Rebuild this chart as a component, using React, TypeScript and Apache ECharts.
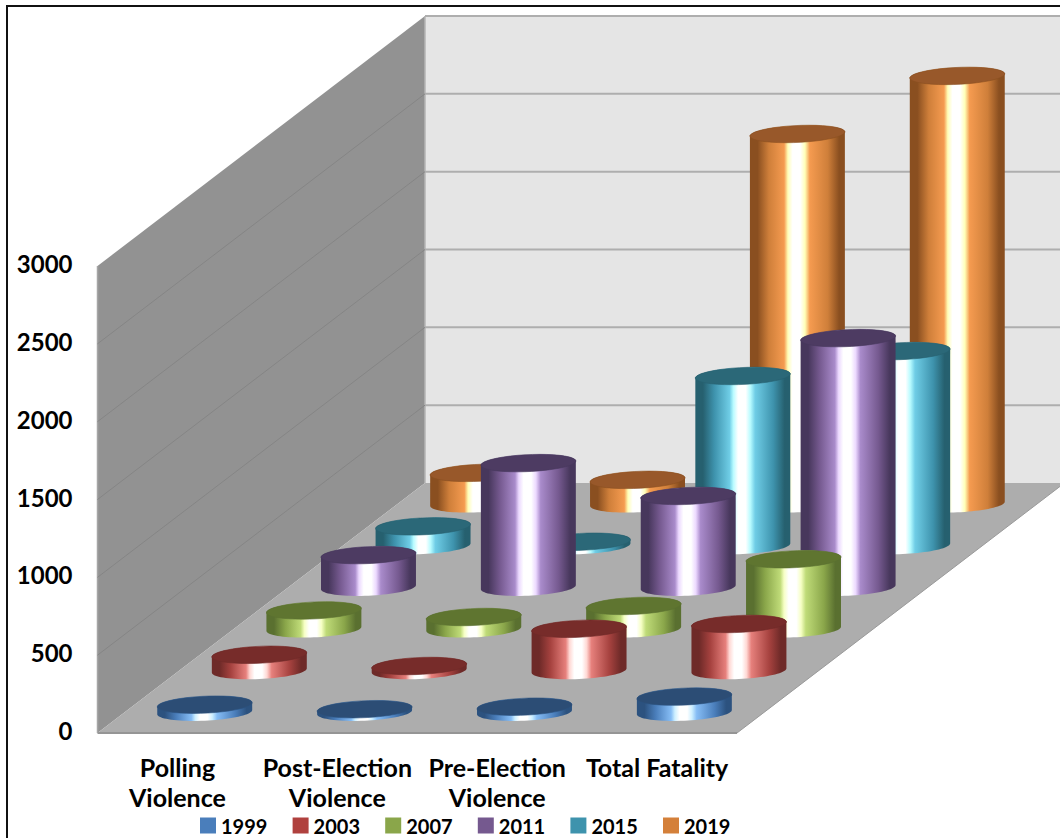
import React, { useEffect, useRef } from "react";
import * as echarts from "echarts";

const categories = ["Polling\nViolence", "Post-Election\nViolence", "Pre-Election\nViolence", "Total Fatality"];
const years = ["1999", "2003", "2007", "2011", "2015", "2019"];
const valueTicks = [0, 500, 1000, 1500, 2000, 2500, 3000];

const values1999 = [48, 19, 35, 100];
const values2003 = [101, 29, 268, 299];
const values2007 = [118, 76, 147, 447];
const values2011 = [206, 797, 586, 1600];
const values2015 = [123, 24, 1089, 1249];
const values2019 = [199, 154, 2376, 2749];
const seriesValues = [values1999, values2003, values2007, values2011, values2015, values2019];

// edge, body, bright, pale, highlight, top cap
const palette = [
  ["#2c527f", "#4a7ebb", "#86bdf5", "#cdefff", "#ffffff", "#2c4d75"],
  ["#6e2a28", "#a6423f", "#e6807c", "#ffd8d4", "#ffffff", "#772c2a"],
  ["#5a7030", "#8aa64a", "#bfdb78", "#f6ffc4", "#ffffff", "#5f7530"],
  ["#47375c", "#75598f", "#a98bcb", "#ecd9ff", "#ffffff", "#4d3b62"],
  ["#26606f", "#3e93ad", "#6fcde6", "#b8fbff", "#ffffff", "#2b6878"],
  ["#8a4f20", "#cf7f3a", "#f59b50", "#ffffb8", "#ffffff", "#98582a"],
];
const legendColors = ["#4a7ebb", "#b0413e", "#8aa64a", "#75598f", "#3e93ad", "#d4803a"];

// Oblique projection of the depth axis, in pixels.
const DEPTH_X = 327.5;
const DEPTH_Y = 250;
const SLOTS = years.length;

function wallsRenderer(params: any, api: any) {
  const cs = params.coordSys;
  const x0 = cs.x;
  const x1 = cs.x + cs.width;
  const yAt = (v: number) => api.coord([0, v])[1];
  const y0 = yAt(0);
  const yTop = yAt(3000);
  const backX = x0 + DEPTH_X;
  const children: any[] = [
    {
      type: "polygon",
      shape: { points: [[backX, yTop - DEPTH_Y], [1200, yTop - DEPTH_Y], [1200, y0 - DEPTH_Y], [backX, y0 - DEPTH_Y]] },
      style: { fill: "#e5e5e5" },
    },
    {
      type: "polygon",
      shape: { points: [[x0, yTop], [backX, yTop - DEPTH_Y], [backX, y0 - DEPTH_Y], [x0, y0]] },
      style: { fill: "#929292" },
    },
    {
      type: "polygon",
      shape: { points: [[x0, y0], [x1, y0], [x1 + DEPTH_X, y0 - DEPTH_Y], [backX, y0 - DEPTH_Y]] },
      style: { fill: "#adadad" },
    },
    {
      type: "line",
      shape: { x1: x0, y1: y0, x2: x1, y2: y0 },
      style: { stroke: "#959595", lineWidth: 2 },
    },
    {
      type: "line",
      shape: { x1, y1: y0, x2: x1 + DEPTH_X, y2: y0 - DEPTH_Y },
      style: { stroke: "#9a9a9a", lineWidth: 1 },
    },
    {
      type: "line",
      shape: { x1: x0, y1: yTop, x2: x0, y2: y0 },
      style: { stroke: "#a6a6a6", lineWidth: 1.5 },
    },
    {
      type: "line",
      shape: { x1: backX, y1: yTop - DEPTH_Y, x2: backX, y2: y0 - DEPTH_Y },
      style: { stroke: "#b4b4b4", lineWidth: 1.5 },
    },
  ];
  valueTicks.forEach((v) => {
    const y = yAt(v);
    if (v > 0) {
      children.push({
        type: "line",
        shape: { x1: backX, y1: y - DEPTH_Y, x2: 1200, y2: y - DEPTH_Y },
        style: { stroke: "#aeaeae", lineWidth: 2 },
      });
    }
    if (v > 0 && v < 3000) {
      children.push({
        type: "line",
        shape: { x1: x0, y1: y, x2: backX, y2: y - DEPTH_Y },
        style: { stroke: "#858585", lineWidth: 1 },
      });
    }
  });
  return { type: "group", children };
}

function cylinderRenderer(depthIndex: number) {
  const [edge, body, bright, pale, hi, cap] = palette[depthIndex];
  const gradient = new echarts.graphic.LinearGradient(0, 0, 1, 0, [
    { offset: 0, color: edge },
    { offset: 0.08, color: edge },
    { offset: 0.2, color: body },
    { offset: 0.36, color: bright },
    { offset: 0.4, color: pale },
    { offset: 0.45, color: hi },
    { offset: 0.53, color: hi },
    { offset: 0.58, color: pale },
    { offset: 0.63, color: bright },
    { offset: 0.82, color: body },
    { offset: 0.94, color: edge },
    { offset: 1, color: edge },
  ]);
  return (_params: any, api: any) => {
    const cat = api.value(0);
    const value = api.value(1);
    const band = api.size([1, 0])[0];
    const slotX = DEPTH_X / SLOTS;
    const slotY = DEPTH_Y / SLOTS;
    const offsetX = slotX * (depthIndex + 0.5);
    const offsetY = slotY * (depthIndex + 0.5);
    const base = api.coord([cat, 0]);
    const top = api.coord([cat, value]);
    const cx = base[0] + offsetX;
    const by = base[1] - offsetY;
    const ty = top[1] - offsetY;

    // The circular footprint is sheared by the same oblique projection as the floor.
    const half = band * 0.297;
    const vx = slotX * 0.42 * 0.5;
    const vy = slotY * 0.42 * 0.5;
    const ux = Math.sqrt(half * half - vx * vx);
    const t0 = Math.atan2(vx, ux);
    const ring = (y: number, from: number, to: number) => {
      const pts: number[][] = [];
      const n = 40;
      for (let i = 0; i <= n; i++) {
        const t = from + ((to - from) * i) / n;
        pts.push([cx + ux * Math.cos(t) + vx * Math.sin(t), y - vy * Math.sin(t)]);
      }
      return pts;
    };
    const side = [...ring(ty, t0, t0 + Math.PI), ...ring(by, t0 + Math.PI, t0 + 2 * Math.PI)];
    return {
      type: "group",
      children: [
        { type: "polygon", shape: { points: side }, style: { fill: gradient } },
        {
          type: "polygon",
          shape: { points: ring(ty, 0, 2 * Math.PI) },
          style: { fill: cap, stroke: edge, lineWidth: 0.6 },
        },
      ],
    };
  };
}

export default function App() {
  const ref = useRef<HTMLDivElement>(null);
  useEffect(() => {
    const chart = echarts.init(ref.current!, undefined, { renderer: "svg" });
    const font = "Lato, Carlito, sans-serif";
    chart.setOption({
      animation: false,
      backgroundColor: "#ffffff",
      grid: { left: 97.5, right: 323, top: 266, bottom: 105, containLabel: false },
      xAxis: {
        type: "category",
        data: categories,
        axisLine: { show: false },
        axisTick: { show: false },
        axisLabel: {
          interval: 0,
          margin: 18.5,
          color: "#000",
          fontFamily: font,
          fontWeight: "bold",
          fontSize: 25,
          lineHeight: 30,
        },
      },
      yAxis: {
        type: "value",
        min: 0,
        max: 3000,
        interval: 500,
        splitLine: { show: false },
        axisLine: { show: false },
        axisTick: { show: false },
        axisLabel: {
          margin: 25,
          color: "#000",
          formatter: (v: number) => `{v|${v}}`,
          rich: {
            v: {
              fontFamily: font,
              fontWeight: "bold",
              fontSize: 24,
              padding: [0, 0, 5, 0],
            },
          },
        },
      },
      legend: {
        data: years,
        left: 200,
        top: 815.5,
        padding: 0,
        itemWidth: 16,
        itemHeight: 16,
        itemGap: 25.2,
        icon: "rect",
        textStyle: { color: "#000", fontFamily: font, fontWeight: "bold", fontSize: 20, lineHeight: 20 },
      },
      graphic: [
        {
          type: "rect",
          silent: true,
          z: 100,
          shape: { x: 7, y: 6, width: 1200, height: 1000 },
          style: { fill: "none", stroke: "#111", lineWidth: 2 },
        },
      ],
      series: [
        {
          type: "custom",
          name: "walls",
          z: 1,
          silent: true,
          data: [[0, 0]],
          renderItem: wallsRenderer,
        },
        ...years.map((year, d) => ({
          type: "custom",
          name: year,
          z: 20 - d,
          itemStyle: { color: legendColors[d] },
          encode: { x: 0, y: 1 },
          data: seriesValues[d].map((v, c) => [c, v]),
          renderItem: cylinderRenderer(d),
        })),
      ],
    });
    return () => chart.dispose();
  }, []);
  return (
    <div
      ref={ref}
      style={{ position: "fixed", left: 0, top: 0, width: 1060, height: 838, overflow: "hidden" }}
    />
  );
}
